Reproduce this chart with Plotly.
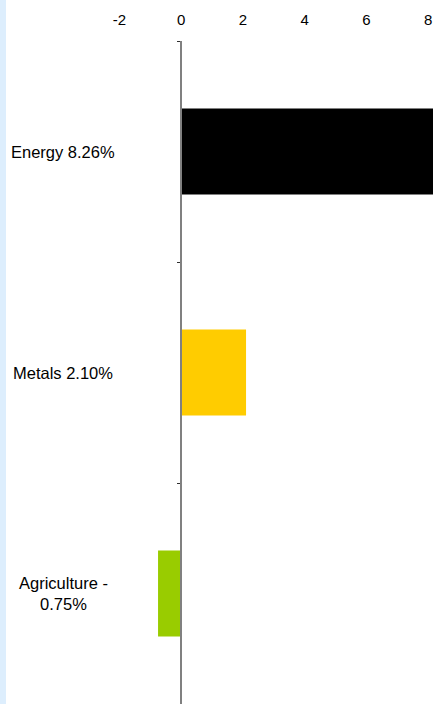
import plotly.graph_objects as go

categories = ["Energy", "Metals", "Agriculture"]
values = [8.26, 2.10, -0.75]
labels = ["Energy 8.26%", "Metals 2.10%", "Agriculture -<br>0.75%"]
colors = ["#000000", "#FFCC00", "#99CC00"]
x_ticks = [-2, 0, 2, 4, 6, 8]
x_tick_text = ["-2", "0", "2", "4", "6", "8"]

W, H = 433, 704
ML, MR, MT, MB = 6, 0, 41, 0
zero_px = 181.2
px_per_unit = 30.88
plot_w = W - ML - MR
xmin = -(zero_px - ML) / px_per_unit
xmax = (W - MR - zero_px) / px_per_unit
label_x = (63 - zero_px) / px_per_unit

font_family = "Liberation Sans, Arial, sans-serif"

fig = go.Figure()
fig.add_trace(go.Bar(
    x=values, y=categories, orientation="h",
    marker=dict(color=colors, line=dict(width=0)),
    width=0.39, hoverinfo="skip",
))

for cat, lab in zip(categories, labels):
    fig.add_annotation(
        x=label_x, y=cat, xref="x", yref="y", text=lab, showarrow=False,
        xanchor="center", yanchor="middle", align="center",
        font=dict(family=font_family, size=16.5, color="#000000"),
    )

# light blue strip on the left edge
fig.add_shape(type="rect", xref="paper", yref="paper",
              x0=-ML / plot_w, x1=0, y0=-0.01, y1=1 + MT / (H - MT - MB) + 0.01,
              fillcolor="#DDEEFD", line=dict(width=0), layer="below")

fig.update_layout(
    width=W, height=H,
    margin=dict(l=ML, r=MR, t=MT, b=MB, pad=0),
    paper_bgcolor="#FFFFFF", plot_bgcolor="#FFFFFF",
    showlegend=False,
    font=dict(family=font_family, color="#000000"),
    xaxis=dict(
        range=[xmin, xmax], side="top", tickvals=x_ticks, ticktext=x_tick_text,
        showgrid=False, zeroline=False, showline=False, ticks="",
        tickfont=dict(size=15, color="#000000"),
        ticklabelstandoff=12, fixedrange=True,
    ),
    yaxis=dict(
        categoryorder="array", categoryarray=categories,
        range=[2.5, -0.5], anchor="free", position=(zero_px - ML) / plot_w,
        showline=True, linecolor="#808080", linewidth=2,
        ticks="outside", ticklen=3, tickwidth=1, tickcolor="#303030",
        tickson="boundaries", showticklabels=False, showgrid=False,
        zeroline=False, fixedrange=True,
    ),
    bargap=0.61,
)

fig.write_html("out.html")
